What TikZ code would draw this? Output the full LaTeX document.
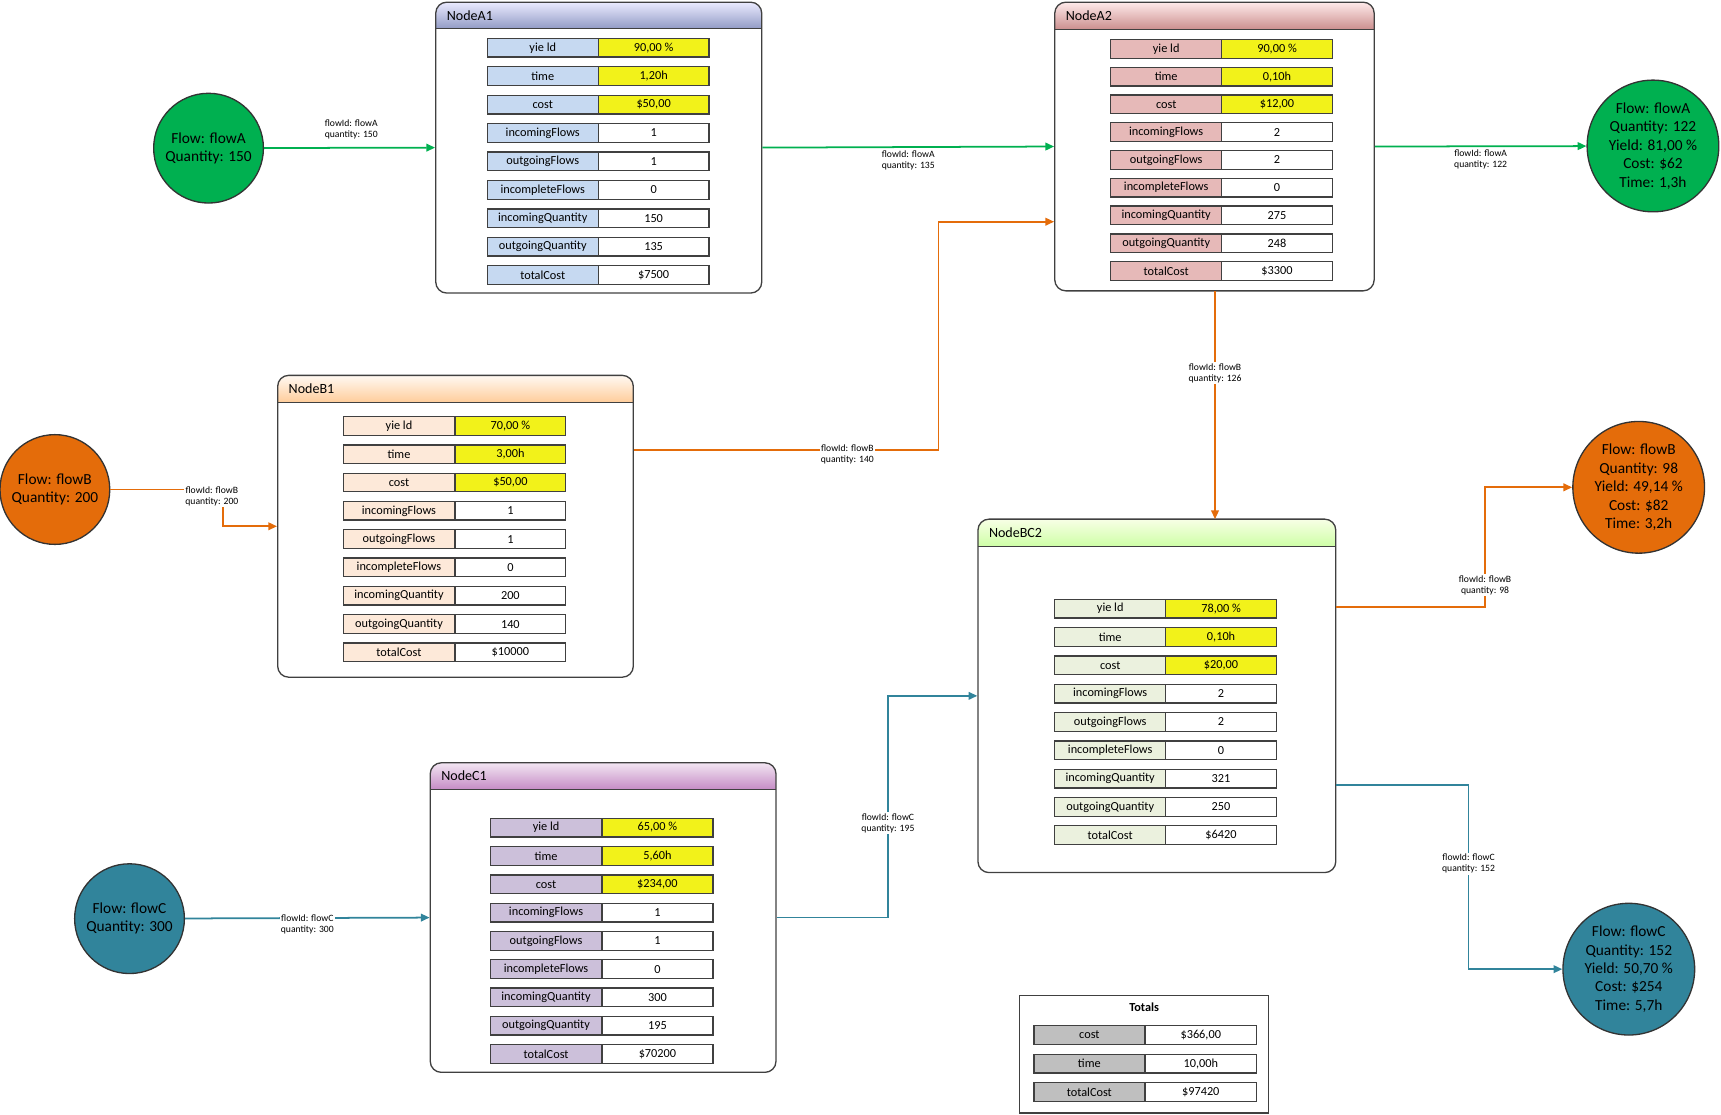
\documentclass[tikz,border=0pt]{standalone}
\usepackage{fontspec}
\setmainfont{Carlito}
\usetikzlibrary{arrows.meta}
\definecolor{fgreen}{HTML}{00B050}
\definecolor{forange}{HTML}{E46C0A}
\definecolor{fteal}{HTML}{31849B}
\definecolor{cellyel}{HTML}{F2F21A}
\definecolor{cellA1}{HTML}{C6D9F1}
\definecolor{cellA2}{HTML}{E6B9B8}
\definecolor{cellB1}{HTML}{FDE9D9}
\definecolor{cellC1}{HTML}{CCC0DA}
\definecolor{cellBC2}{HTML}{EBF1DE}
\tikzset{
  lbl/.style = {draw=black!75, line width=.6pt, minimum width=50.5pt, minimum height=8.5pt, inner sep=0pt, font=\fontsize{5.6}{6}\selectfont},
  val/.style = {lbl, fill=white},
  flow/.style = {line width=.8pt, -{Triangle[length=4pt,width=3.5pt]}},
  flowlbl/.style = {fill=white, text=black, inner sep=.6pt, align=center, font=\fontsize{4.4}{5}\selectfont},
  src/.style = {circle, draw=black!80, line width=.6pt, inner sep=0pt, minimum size=50pt, align=center, font=\fontsize{7}{8.4}\selectfont},
  sink/.style = {src, minimum size=60pt}
}
% #1 name, #2 x1, #3 y1, #4 x2, #5 y2, #6 header bottom, #7 title, #8 top colour, #9 bottom colour
\newcommand\procbox[9]{%
  \begin{scope}
    \clip[rounded corners=5pt] (#2,#3) rectangle (#4,#5);
    \shade[top color=#8, bottom color=#9] (#2,#3) rectangle (#4,#6);
  \end{scope}
  \node[draw=black!75, line width=.6pt, rounded corners=5pt, inner sep=0pt,
        minimum width={(#4-#2)*0.5pt}, minimum height={(#5-#3)*0.5pt}] (#1) at ({(#2+#4)/2},{(#3+#5)/2}) {};
  \draw[black!75, line width=.6pt] (#2,#6) -- (#4,#6);
  \node[anchor=west, font=\fontsize{6.4}{7}\selectfont] (#1-title) at ({#2+3},{(#3+#6)/2}) {#7};
}
% #1 name, #2 label x, #3 value x, #4 first y, #5 step, #6 label colour, #7 rows
\newcommand\proprows[7]{%
  \foreach \lab/\val [count=\i] in {#7} {
    \pgfmathsetmacro\yy{#4+(\i-1)*#5}
    \ifnum\i<4
      \node[lbl, fill=#6] (#1-l\i) at (#2,\yy) {\lab};
      \node[lbl, fill=cellyel] (#1-v\i) at (#3,\yy) {\val};
    \else
      \node[lbl, fill=#6] (#1-l\i) at (#2,\yy) {\lab};
      \node[val] (#1-v\i) at (#3,\yy) {\val};
    \fi
  }
}

\begin{document}
\begin{tikzpicture}[x=0.5pt, y=-0.5pt]
\useasboundingbox (0,0) rectangle (1568,1015);

% process boxes
\procbox{A1}{397}{2}{694}{267}{26}{NodeA1}{blue!8}{cellA1!80!blue!60!gray}
\proprows{A1}{494.5}{595.5}{43.5}{25.9}{cellA1}{yie ld/{90,00 \%}, time/{1,20h}, cost/{\$50,00}, incomingFlows/1, outgoingFlows/1, incompleteFlows/0, incomingQuantity/150, outgoingQuantity/135, totalCost/\$7500}

\procbox{A2}{961}{2}{1252}{265}{27}{NodeA2}{red!8}{cellA2!80!red!70!gray}
\proprows{A2}{1062.5}{1163.5}{44.5}{25.3}{cellA2}{yie ld/{90,00 \%}, time/{0,10h}, cost/{\$12,00}, incomingFlows/2, outgoingFlows/2, incompleteFlows/0, incomingQuantity/275, outgoingQuantity/248, totalCost/\$3300}

\procbox{B1}{253}{342}{577}{617}{367}{NodeB1}{orange!5}{orange!40}
\proprows{B1}{363.5}{465}{388}{25.8}{cellB1}{yie ld/{70,00 \%}, time/{3,00h}, cost/{\$50,00}, incomingFlows/1, outgoingFlows/1, incompleteFlows/0, incomingQuantity/200, outgoingQuantity/140, totalCost/\$10000}

\procbox{C1}{392}{695}{707}{977}{719}{NodeC1}{violet!10}{violet!45}
\proprows{C1}{497.5}{599}{754}{25.8}{cellC1}{yie ld/{65,00 \%}, time/{5,60h}, cost/{\$234,00}, incomingFlows/1, outgoingFlows/1, incompleteFlows/0, incomingQuantity/300, outgoingQuantity/195, totalCost/\$70200}

\procbox{BC2}{891}{473}{1217}{795}{498}{NodeBC2}{green!5!lime!10}{green!40!lime!35}
\proprows{BC2}{1011.5}{1112.5}{554.5}{25.8}{cellBC2}{yie ld/{78,00 \%}, time/{0,10h}, cost/{\$20,00}, incomingFlows/2, outgoingFlows/2, incompleteFlows/0, incomingQuantity/321, outgoingQuantity/250, totalCost/\$6420}

% totals
\node[draw=black!75, line width=.6pt, minimum width=113.5pt, minimum height=53.5pt, inner sep=0pt] (tot) at (1042.5,960.5) {};
\node[font=\bfseries\fontsize{5.6}{6}\selectfont] (tot-title) at (1042.5,918) {Totals};
\foreach \lab/\val [count=\i] in {cost/{\$366,00}, time/{10,00h}, totalCost/\$97420} {
  \node[lbl, fill=black!25] (tot-l\i) at (992.5,{943+(\i-1)*26}) {\lab};
  \node[val] (tot-v\i) at (1094,{943+(\i-1)*26}) {\val};
}

% sources and sinks
\node[src, fill=fgreen] (srcA) at (190,135) {Flow: flowA\\Quantity: 150};
\node[src, fill=forange] (srcB) at (50,446) {Flow: flowB\\Quantity: 200};
\node[src, fill=fteal] (srcC) at (118,837) {Flow: flowC\\Quantity: 300};
\node[sink, fill=fgreen] (sinkA) at (1506,133) {Flow: flowA\\Quantity: 122\\Yield: 81,00 \%\\Cost: \$62\\Time: 1,3h};
\node[sink, fill=forange] (sinkB) at (1493,444) {Flow: flowB\\Quantity: 98\\Yield: 49,14 \%\\Cost: \$82\\Time: 3,2h};
\node[sink, fill=fteal] (sinkC) at (1484,883) {Flow: flowC\\Quantity: 152\\Yield: 50,70 \%\\Cost: \$254\\Time: 5,7h};

% helper coordinates
\coordinate (yB1) at (0,410);
\coordinate (yA2) at (0,202);
\coordinate (yBC2a) at (0,553);
\coordinate (yBC2b) at (0,715);
\coordinate (yC1) at (0,836);
\coordinate (yBC2c) at (0,634);
\coordinate (xB) at (203,0);
\coordinate (xAB) at (855,0);
\coordinate (xBout) at (1353,0);
\coordinate (xC) at (809,0);
\coordinate (xCout) at (1338,0);

% flows
\draw[flow, fgreen] (srcA) -- (A1.west);
\node[flowlbl] at (320,118) {flowId: flowA\\quantity: 150};
\draw[flow, fgreen] (A1.east) -- node[flowlbl, yshift=-6pt] {flowId: flowA\\quantity: 135} (A2.west);
\draw[flow, fgreen] (A2.east) -- node[flowlbl, yshift=-6pt] {flowId: flowA\\quantity: 122} (sinkA);

\draw[flow, forange] (srcB) -- (srcB -| xB) -- (B1.west -| xB) -- (B1.west);
\node[flowlbl] at (193,452) {flowId: flowB\\quantity: 200};
\draw[flow, forange] (B1.east |- yB1) -- (xAB |- yB1) -- (xAB |- yA2) -- (A2.west |- yA2);
\node[flowlbl] at (772,414) {flowId: flowB\\quantity: 140};
\draw[flow, forange] (1107,265) -- node[flowlbl, pos=.36] {flowId: flowB\\quantity: 126} (1107,473);
\draw[flow, forange] (BC2.east |- yBC2a) -- (xBout |- yBC2a) -- (xBout |- sinkB) -- (sinkB);
\node[flowlbl] at (1353,533) {flowId: flowB\\quantity: 98};

\draw[flow, fteal] (srcC) -- node[flowlbl, yshift=-3pt] {flowId: flowC\\quantity: 300} (C1.west);
\draw[flow, fteal] (C1.east |- yC1) -- (xC |- yC1) -- (xC |- yBC2c) -- (BC2.west |- yBC2c);
\node[flowlbl] at (809,750) {flowId: flowC\\quantity: 195};
\draw[flow, fteal] (BC2.east |- yBC2b) -- (xCout |- yBC2b) -- (xCout |- sinkC) -- (sinkC);
\node[flowlbl] at (1338,787) {flowId: flowC\\quantity: 152};
\end{tikzpicture}
\end{document}
